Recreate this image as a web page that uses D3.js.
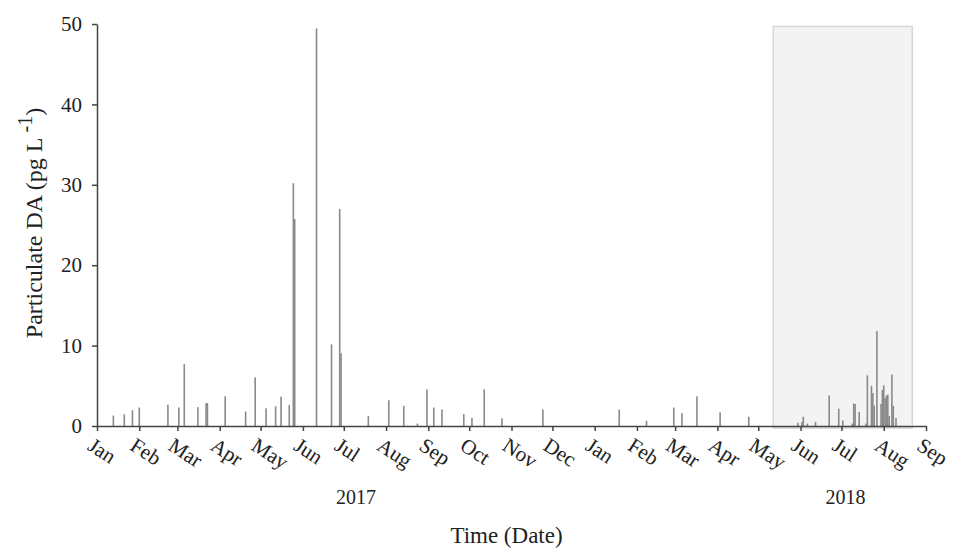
<!DOCTYPE html>
<html>
<head>
<meta charset="utf-8">
<script src="https://cdn.jsdelivr.net/npm/d3@7"></script>
<style>
  body { margin: 0; background: #fff; }
  text { font-family: "Liberation Serif", "Times New Roman", serif; }
</style>
</head>
<body>
<svg width="955" height="551"></svg>
<script>
// sample dates and particulate DA (pg/L)
const dates = [
  "2017-01-13", "2017-01-21", "2017-01-27", "2017-02-01", "2017-02-22",
  "2017-03-02", "2017-03-06", "2017-03-16", "2017-03-22", "2017-03-23",
  "2017-04-05", "2017-04-20", "2017-04-27", "2017-05-05", "2017-05-12",
  "2017-05-16", "2017-05-22", "2017-05-25", "2017-05-26", "2017-06-11",
  "2017-06-22", "2017-06-28", "2017-06-29", "2017-07-19", "2017-08-03",
  "2017-08-14", "2017-08-24", "2017-08-31", "2017-09-05", "2017-09-11",
  "2017-09-27", "2017-10-03", "2017-10-12", "2017-10-25", "2017-11-24",
  "2018-01-19", "2018-02-08", "2018-02-28", "2018-03-06", "2018-03-17",
  "2018-04-03", "2018-04-24", "2018-05-30", "2018-06-02", "2018-06-03",
  "2018-06-06", "2018-06-12", "2018-06-22", "2018-06-29", "2018-07-02",
  "2018-07-09", "2018-07-10", "2018-07-11", "2018-07-14", "2018-07-19",
  "2018-07-20", "2018-07-23", "2018-07-24", "2018-07-25", "2018-07-27",
  "2018-07-30", "2018-07-31", "2018-08-01", "2018-08-02", "2018-08-03",
  "2018-08-04", "2018-08-05", "2018-08-07", "2018-08-08", "2018-08-10"
];
const pDA = [
  1.3, 1.45, 1.95, 2.3, 2.65,
  2.3, 7.7, 2.35, 2.85, 2.85,
  3.7, 1.8, 6.05, 2.2, 2.45,
  3.65, 2.6, 30.2, 25.75, 49.45,
  10.15, 27.0, 9.05, 1.25, 3.2,
  2.5, 0.3, 4.55, 2.3, 2.05,
  1.5, 1.0, 4.55, 0.95, 2.05,
  2.05, 0.65, 2.3, 1.6, 3.7,
  1.7, 1.15, 0.4, 0.5, 1.15,
  0.3, 0.5, 3.8, 2.15, 0.7,
  0.3, 2.8, 2.75, 1.75, 0.3,
  6.3, 5.0, 4.1, 2.55, 11.8,
  2.75, 4.5, 5.05, 3.5, 3.8,
  3.9, 1.25, 6.4, 2.5, 1.0
];
const yTicks = [0, 10, 20, 30, 40, 50];
const years = [["2017", "2017-07-10"], ["2018", "2018-07-04"]];
// highlighted 2018 period
const boxRange = ["2018-05-12", "2018-08-22"];
const boxVals = [-0.25, 49.7];

const parse = d3.timeParse("%Y-%m-%d");
const data = dates.map((d, i) => ({ date: parse(d), value: pDA[i] }));

const margin = { top: 24, right: 29, bottom: 125, left: 97 },
      width = 955 - margin.left - margin.right,
      height = 551 - margin.top - margin.bottom;

const svg = d3.select("svg")
  .append("g")
  .attr("transform", `translate(${margin.left},${margin.top})`);

const x = d3.scaleTime()
  .domain([parse("2017-01-01"), parse("2018-09-01")])
  .range([0, width]);

const y = d3.scaleLinear()
  .domain([0, 50])
  .range([height, 0]);

// shaded box
svg.append("rect")
  .attr("x", x(parse(boxRange[0])))
  .attr("y", y(boxVals[1]))
  .attr("width", x(parse(boxRange[1])) - x(parse(boxRange[0])))
  .attr("height", y(boxVals[0]) - y(boxVals[1]))
  .attr("fill", "#f3f3f3")
  .attr("stroke", "#d6d6d6")
  .attr("stroke-width", 1.5);

// bars
svg.selectAll(".bar")
  .data(data)
  .enter()
  .append("rect")
  .attr("class", "bar")
  .attr("x", d => x(d.date) - 0.8)
  .attr("width", 1.6)
  .attr("y", d => y(d.value))
  .attr("height", d => height - y(d.value))
  .attr("fill", "#8a8a8a");

// y axis
const yAxis = svg.append("g")
  .call(d3.axisLeft(y).tickValues(yTicks).tickSize(5).tickSizeOuter(0));
yAxis.selectAll("text")
  .attr("font-size", "21px")
  .attr("fill", "#222")
  .attr("x", -15)
  .style("font-family", "Liberation Serif");

// x axis
const xAxis = svg.append("g")
  .attr("transform", `translate(0,${height})`)
  .call(d3.axisBottom(x).ticks(d3.timeMonth.every(1)).tickFormat(d3.timeFormat("%b")).tickSize(5).tickSizeOuter(0));
xAxis.selectAll("text")
  .attr("font-size", "21px")
  .attr("fill", "#222")
  .attr("text-anchor", "start")
  .attr("dy", 0)
  .attr("y", 0)
  .attr("transform", "translate(-11,23) rotate(33)")
  .style("font-family", "Liberation Serif");

[yAxis, xAxis].forEach(a => {
  a.select(".domain").attr("stroke", "#444").attr("stroke-width", 1.5);
  a.selectAll(".tick line").attr("stroke", "#444").attr("stroke-width", 1.5);
});

// year labels
years.forEach(([label, mid]) => {
  svg.append("text")
    .attr("x", x(parse(mid)))
    .attr("y", height + 78)
    .attr("text-anchor", "middle")
    .attr("font-size", "20px")
    .attr("fill", "#222")
    .text(label);
});

// axis titles
svg.append("text")
  .attr("x", width / 2 - 5)
  .attr("y", height + 117)
  .attr("text-anchor", "middle")
  .attr("font-size", "23px")
  .attr("fill", "#222")
  .text("Time (Date)");

const yl = svg.append("text")
  .attr("transform", `translate(-55,${height / 2 - 2}) rotate(-90)`)
  .attr("text-anchor", "middle")
  .attr("font-size", "24px")
  .attr("fill", "#222");
yl.append("tspan").text("Particulate DA (pg L");
yl.append("tspan").attr("dy", -10).attr("font-size", "20px").text(" -1");
yl.append("tspan").attr("dy", 10).text(")");
</script>
</body>
</html>
